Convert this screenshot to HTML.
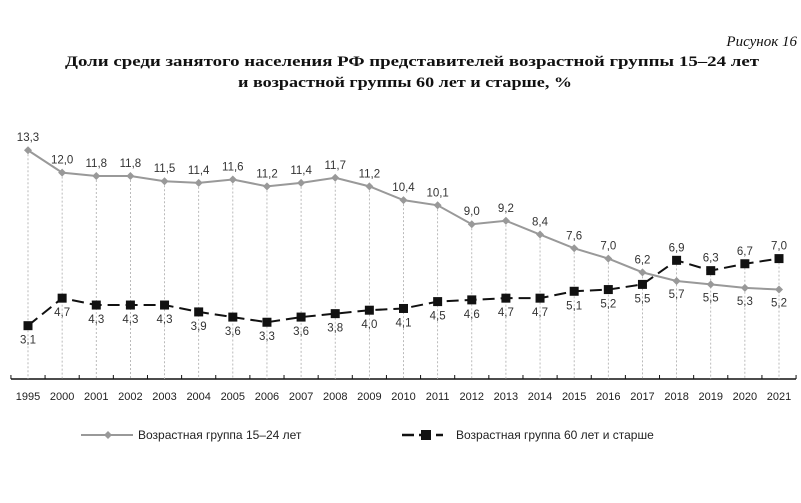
<!DOCTYPE html>
<html><head><meta charset="utf-8">
<style>
html,body{margin:0;padding:0;background:#fff;}
svg{display:block;}
</style></head>
<body>
<svg id="chart" width="801" height="503" xmlns="http://www.w3.org/2000/svg" font-family="'Liberation Sans', sans-serif">
<rect width="801" height="503" fill="#fff"/>
<text x="797" y="46" text-anchor="end" font-family="'Liberation Serif', serif" font-style="italic" font-size="15" fill="#111">Рисунок 16</text>
<text x="412" y="66" text-anchor="middle" font-family="'Liberation Serif', serif" font-weight="bold" font-size="15" textLength="694" lengthAdjust="spacingAndGlyphs" fill="#111">Доли среди занятого населения РФ представителей возрастной группы 15–24 лет</text>
<text x="405" y="87" text-anchor="middle" font-family="'Liberation Serif', serif" font-weight="bold" font-size="15" textLength="334" lengthAdjust="spacingAndGlyphs" fill="#111">и возрастной группы 60 лет и старше, %</text>
<g id="plot"></g>
<g>
<line x1="81" y1="435" x2="133" y2="435" stroke="#999" stroke-width="2"/>
<path d="M108 431 L112 435 L108 439 L104 435 Z" fill="#999"/>
<text x="138" y="439" font-size="12" fill="#222">Возрастная группа 15–24 лет</text>
<line x1="402" y1="435" x2="443" y2="435" stroke="#111" stroke-width="2.5" stroke-dasharray="12 5"/>
<rect x="421" y="430" width="10" height="10" fill="#111"/>
<text x="456" y="439" font-size="12" fill="#222">Возрастная группа 60 лет и старше</text>
</g>
</svg>
<script>
const years = ["1995","2000","2001","2002","2003","2004","2005","2006","2007","2008","2009","2010","2011","2012","2013","2014","2015","2016","2017","2018","2019","2020","2021"];
const youth = [13.3,12.0,11.8,11.8,11.5,11.4,11.6,11.2,11.4,11.7,11.2,10.4,10.1,9.0,9.2,8.4,7.6,7.0,6.2,5.7,5.5,5.3,5.2];
const senior = [3.1,4.7,4.3,4.3,4.3,3.9,3.6,3.3,3.6,3.8,4.0,4.1,4.5,4.6,4.7,4.7,5.1,5.2,5.5,6.9,6.3,6.7,7.0];
const NS="http://www.w3.org/2000/svg";
const g=document.getElementById('plot');
const x0=28, step=(779-28)/(years.length-1);
function xs(i){return x0+i*step;}
function ys(v){return 379-v*17.2;}
function mk(tag,attrs){const e=document.createElementNS(NS,tag);for(const k in attrs)e.setAttribute(k,attrs[k]);g.appendChild(e);return e;}
function fmt(v){return v.toFixed(1).replace('.',',');}
// axis
const ax=mk('line',{x1:11,y1:379,x2:796,y2:379,stroke:'#111','stroke-width':1.5});


for(let i=0;i<=years.length;i++){
  const tx=xs(i)-step/2;
  const t=mk('line',{x1:tx,y1:375,x2:tx,y2:379,stroke:'#111','stroke-width':1});
  
  
}
years.forEach((y,i)=>{
  const top=Math.min(ys(youth[i]),ys(senior[i]));
  const d=mk('line',{x1:xs(i),y1:top,x2:xs(i),y2:379,stroke:'#aaa','stroke-width':0.8,'stroke-dasharray':'2 2'});
  
  
  const l=mk('text',{x:xs(i),y:400,'text-anchor':'middle','font-size':11,fill:'#222'});
  l.textContent=y;
  
  
});
// youth line
const yp=mk('polyline',{points:youth.map((v,i)=>xs(i)+','+ys(v)).join(' '),fill:'none',stroke:'#999','stroke-width':2});


const sp=mk('polyline',{points:senior.map((v,i)=>xs(i)+','+ys(v)).join(' '),fill:'none',stroke:'#111','stroke-width':2,'stroke-dasharray':'12 6'});


youth.forEach((v,i)=>{
  const cx=xs(i),cy=ys(v);
  const m=mk('path',{d:`M${cx} ${cy-4} L${cx+4} ${cy} L${cx} ${cy+4} L${cx-4} ${cy} Z`,fill:'#999'});
  
  
  const above = v>=senior[i];
  const t=mk('text',{x:cx,y:above?cy-9:cy+17,'text-anchor':'middle','font-size':11.5,fill:'#333'});
  t.textContent=fmt(v);
  
  
});
senior.forEach((v,i)=>{
  const cx=xs(i),cy=ys(v);
  const m=mk('rect',{x:cx-4.5,y:cy-4.5,width:9,height:9,fill:'#111'});
  
  
  const above = v>youth[i];
  const t=mk('text',{x:cx,y:above?cy-9:cy+18,'text-anchor':'middle','font-size':11.5,fill:'#333'});
  t.textContent=fmt(v);
  
  
});
</script>
</body></html>
